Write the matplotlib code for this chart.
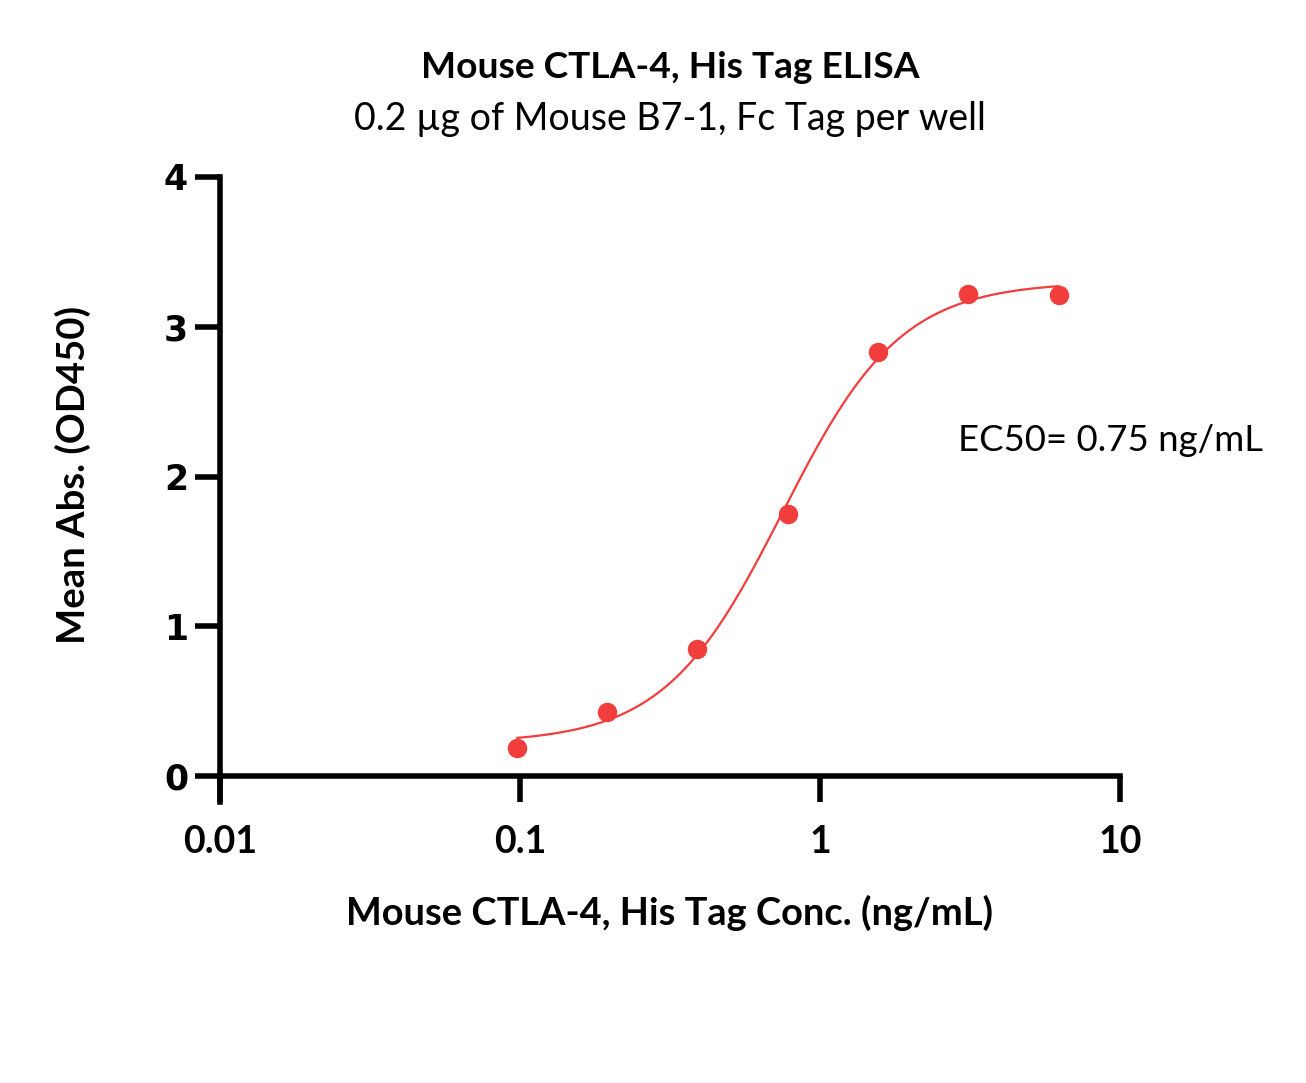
import numpy as np
from matplotlib import pyplot as plt

plt.rcParams['font.family'] = ['Lato', 'DejaVu Sans']

# 数据
conc = [0.098, 0.195, 0.39, 0.78, 1.56, 3.125, 6.25]
od450 = [0.19, 0.43, 0.85, 1.75, 2.83, 3.22, 3.21]

# 4PL 拟合参数
bottom = 0.22
top = 3.30
ec50 = 0.75
hill = 2.2

x_ticks = [0.01, 0.1, 1, 10]
x_ticklabels = ['0.01', '0.1', '1', '10']
y_ticks = [0, 1, 2, 3, 4]

red = '#F23D3D'

fig = plt.figure(figsize=(13.06, 10.83), dpi=100)
ax = fig.add_axes([220/1306, 307/1083, 900/1306, 599/1083])

xs = np.logspace(np.log10(conc[0]), np.log10(conc[-1]), 300)
ys = bottom + (top - bottom) / (1 + (ec50 / xs) ** hill)
ax.plot(xs, ys, color=red, lw=1.6, zorder=3)
ax.plot(conc, od450, 'o', color=red, ms=13, zorder=4, clip_on=False)

ax.set_xscale('log')
ax.set_xlim(0.01, 10)
ax.set_ylim(0, 4)
ax.set_xticks(x_ticks)
ax.set_xticklabels(x_ticklabels)
ax.minorticks_off()
ax.set_yticks(y_ticks)

for s in ['top', 'right']:
	ax.spines[s].set_visible(False)
for s in ['left', 'bottom']:
	ax.spines[s].set_linewidth(4)
ax.spines['left'].set_bounds(-0.175, 4)
ax.tick_params(axis='x', width=4, length=19, pad=16)
ax.tick_params(axis='y', width=4, length=18, pad=5)

for lab in ax.get_xticklabels():
	lab.set_fontsize(27)
	lab.set_fontweight('bold')
for lab in ax.get_yticklabels():
	lab.set_family('DejaVu Sans')
	lab.set_fontsize(25)
	lab.set_fontweight('bold')

fig.text(670/1306, 1 - 68/1083, 'Mouse CTLA-4, His Tag ELISA', ha='center', va='center',
		 fontsize=26.7, fontweight='bold')
fig.text(670/1306, 1 - 119/1083, '0.2 µg of Mouse B7-1, Fc Tag per well', ha='center', va='center',
		 fontsize=27)
fig.text(670/1306, 1 - 913/1083, 'Mouse CTLA-4, His Tag Conc. (ng/mL)', ha='center', va='center',
		 fontsize=27.4, fontweight='bold')
fig.text(73/1306, 1 - 475/1083, 'Mean Abs. (OD450)', ha='center', va='center', rotation=90,
		 fontsize=27.5, fontweight='bold')
ax.text(2.88, 2.24, 'EC50= 0.75 ng/mL', ha='left', va='center', fontsize=26.3)

fig.savefig('out.png', dpi=100)
